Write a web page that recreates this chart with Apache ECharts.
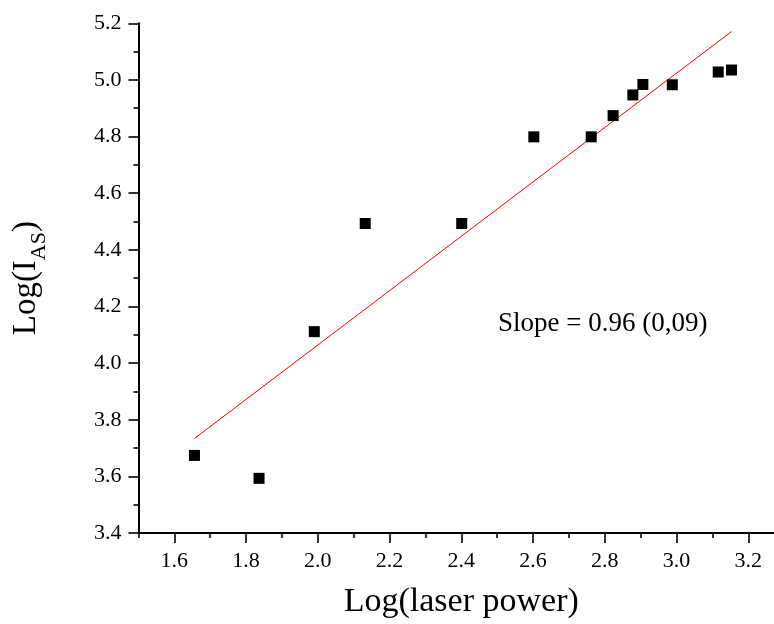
<!DOCTYPE html>
<html>
<head>
<meta charset="utf-8">
<script src="https://cdn.jsdelivr.net/npm/echarts@6/dist/echarts.min.js"></script>
<style>
  html, body { margin: 0; padding: 0; background: #fff; }
  #chart { width: 774px; height: 624px; }
</style>
</head>
<body>
<div id="chart"></div>
<script>
// Measured points: log of laser power vs log of anti-Stokes intensity
const logPower = [1.656, 1.836, 1.990, 2.132, 2.401, 2.602, 2.762, 2.823, 2.878, 2.906, 2.988, 3.116, 3.153];
const logIAS   = [3.674, 3.593, 4.111, 4.493, 4.493, 4.799, 4.799, 4.874, 4.947, 4.984, 4.983, 5.028, 5.035];

// Linear fit: slope as printed, intercept of the fitted line
const fitSlope = 0.96;
const fitIntercept = 2.144;
const fitRange = [1.656, 3.153];

// Tick positions
const xMajorTicks = [1.6, 1.8, 2.0, 2.2, 2.4, 2.6, 2.8, 3.0, 3.2];
const xMinorTicks = [1.5, 1.7, 1.9, 2.1, 2.3, 2.5, 2.7, 2.9, 3.1];

const slopeLabel = 'Slope = 0.96 (0,09)';

const FONT = '"Liberation Serif", "Times New Roman", serif';

const points = logPower.map((x, i) => [x, logIAS[i]]);
const fitLine = fitRange.map(x => [x, fitIntercept + fitSlope * x]);

const chart = echarts.init(document.getElementById('chart'), null, { renderer: 'canvas' });

// x axis stops at the right edge of the canvas, just short of 3.3
const X_MIN = 1.5;
const X_MAX = 3.2715;

chart.setOption({
  animation: false,
  backgroundColor: '#ffffff',
  grid: { left: 138.5, top: 23.3, right: 0, bottom: 88.6, containLabel: false },
  xAxis: [
    {
      type: 'value',
      min: X_MIN,
      max: X_MAX,
      position: 'bottom',
      name: 'Log(laser power)',
      nameLocation: 'middle',
      nameGap: 52,
      nameTextStyle: { fontFamily: FONT, fontSize: 34, color: '#000', padding: [0, 0, 0, 10] },
      axisLine: { show: true, lineStyle: { color: '#000', width: 2 } },
      axisTick: { show: true, length: 10, customValues: xMajorTicks, lineStyle: { color: '#000', width: 1.6 } },
      axisLabel: {
        customValues: xMajorTicks,
        margin: 17,
        fontFamily: FONT, fontSize: 22, color: '#000',
        formatter: v => v.toFixed(1)
      },
      splitLine: { show: false }
    },
    {
      type: 'value',
      min: X_MIN,
      max: X_MAX,
      position: 'bottom',
      axisLine: { show: false },
      axisTick: { show: true, length: 5, customValues: xMinorTicks, lineStyle: { color: '#000', width: 1.6 } },
      axisLabel: { show: false },
      splitLine: { show: false }
    }
  ],
  yAxis: {
    type: 'value',
    min: 3.4,
    max: 5.2,
    interval: 0.2,
    name: '{a|Log(I}{b|AS}{a|)}',
    nameLocation: 'middle',
    nameGap: 88,
    nameRotate: 90,
    nameTextStyle: {
      rich: {
        a: { fontFamily: FONT, fontSize: 33, color: '#000', lineHeight: 36 },
        b: { fontFamily: FONT, fontSize: 22, color: '#000', lineHeight: 48, verticalAlign: 'bottom' }
      }
    },
    axisLine: { show: true, lineStyle: { color: '#000', width: 2 } },
    axisTick: { show: true, length: 10, lineStyle: { color: '#000', width: 1.6 } },
    minorTick: { show: true, splitNumber: 2, length: 5, lineStyle: { color: '#000', width: 1.6 } },
    axisLabel: {
      margin: 17,
      fontFamily: FONT, fontSize: 22, color: '#000',
      formatter: v => v.toFixed(1)
    },
    splitLine: { show: false }
  },
  graphic: [
    {
      type: 'text',
      left: 498,
      top: 310,
      style: { text: slopeLabel, font: '27px ' + FONT, fill: '#000' }
    }
  ],
  series: [
    {
      type: 'line',
      data: fitLine,
      xAxisIndex: 0,
      showSymbol: false,
      symbol: 'none',
      lineStyle: { color: '#ff0000', width: 1 },
      z: 2
    },
    {
      type: 'scatter',
      data: points,
      xAxisIndex: 0,
      symbol: 'rect',
      symbolSize: 11,
      itemStyle: { color: '#000', opacity: 1 },
      z: 3
    }
  ]
});
</script>
</body>
</html>
